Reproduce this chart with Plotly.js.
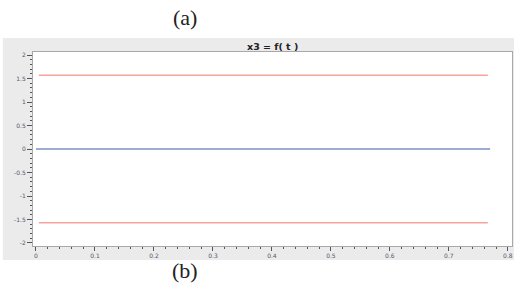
<!DOCTYPE html>
<html><head><meta charset="utf-8">
<script src="https://cdn.plot.ly/plotly-3.0.1.min.js"></script>
<style>html,body{margin:0;padding:0;background:#fff;}</style>
</head><body><div id="chart" style="width:514px;height:290px;"></div>
<script>
// data
const tZero = [0, 0.77];
const x3Zero = [0, 0];
const tUpper = [0.005, 0.766];
const x3Upper = [1.5708, 1.5708];
const tLower = [0.005, 0.766];
const x3Lower = [-1.5708, -1.5708];
const xTicks = [0, 0.1, 0.2, 0.3, 0.4, 0.5, 0.6, 0.7, 0.8];
const yTicks = [-2, -1.5, -1, -0.5, 0, 0.5, 1, 1.5, 2];
const titleText = 'x3 = f( t )';
const labelA = '(a)';
const labelB = '(b)';

const traces = [
  {x: tUpper, y: x3Upper, mode: 'lines', line: {color: '#f5a39c', width: 1.5}, hoverinfo: 'skip'},
  {x: tLower, y: x3Lower, mode: 'lines', line: {color: '#f5a39c', width: 1.5}, hoverinfo: 'skip'},
  {x: tZero, y: x3Zero, mode: 'lines', line: {color: '#3d5ca3', width: 1.2}, hoverinfo: 'skip'}
];

const tickFont = {family: 'DejaVu Sans', size: 6, color: '#5a5470'};
const layout = {
  width: 514, height: 290,
  margin: {l: 33, r: 2, t: 52, b: 44, autoexpand: false},
  paper_bgcolor: '#ffffff',
  plot_bgcolor: '#ffffff',
  showlegend: false,
  xaxis: {range: [-0.005, 0.807], tickvals: xTicks, ticktext: xTicks.map(String),
          showgrid: false, zeroline: false, showline: true, linecolor: '#a8a8a8', linewidth: 1,
          mirror: true, ticks: 'outside', ticklen: 4, tickcolor: '#555', tickfont: tickFont,
          automargin: false,
          minor: {dtick: 0.02, ticklen: 2, tickcolor: '#555', ticks: 'outside', showgrid: false}},
  yaxis: {range: [-2.064, 2.064], tickvals: yTicks, ticktext: yTicks.map(String),
          showgrid: false, zeroline: false, showline: true, linecolor: '#a8a8a8', linewidth: 1,
          mirror: true, ticks: 'outside', ticklen: 5, tickcolor: '#555', tickfont: tickFont,
          automargin: false,
          minor: {dtick: 0.1, ticklen: 2, tickcolor: '#555', ticks: 'outside', showgrid: false}},
  shapes: [
    {type: 'rect', xref: 'paper', yref: 'paper', x0: -0.063, x1: 1.01, y0: -0.072, y1: 1.072,
     fillcolor: '#ebebeb', line: {width: 0}, layer: 'below'},
    {type: 'rect', xref: 'paper', yref: 'paper', x0: 0, x1: 1, y0: 0, y1: 1,
     fillcolor: '#ffffff', line: {width: 0}, layer: 'below'}
  ],
  annotations: [
    {text: '<b>' + titleText + '</b>', xref: 'paper', yref: 'paper', x: 0.5, y: 1.03,
     xanchor: 'center', yanchor: 'middle',
     showarrow: false, font: {family: 'DejaVu Sans', size: 9.5, color: '#222'}},
    {text: labelA, xref: 'paper', yref: 'paper', x: 0.317, y: 1.18, xanchor: 'center', yanchor: 'middle',
     showarrow: false, font: {family: 'Liberation Serif', size: 22, color: '#222'}},
    {text: labelB, xref: 'paper', yref: 'paper', x: 0.317, y: -0.124, xanchor: 'center', yanchor: 'middle',
     showarrow: false, font: {family: 'Liberation Serif', size: 22, color: '#222'}}
  ]
};
Plotly.newPlot('chart', traces, layout, {staticPlot: true, displayModeBar: false});
</script></body></html>
